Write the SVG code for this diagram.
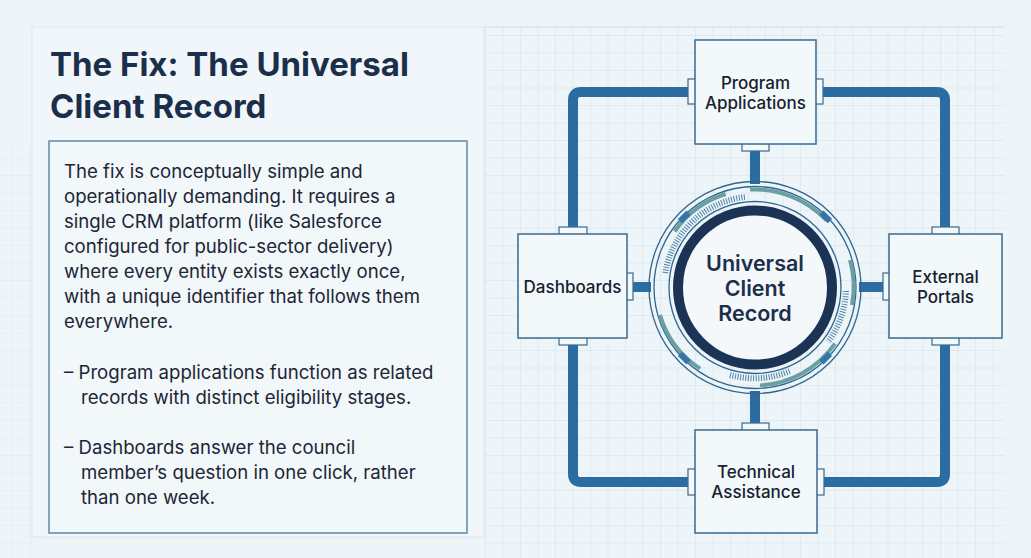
<svg xmlns="http://www.w3.org/2000/svg" width="1031" height="558" viewBox="0 0 1031 558">
  <defs>
    <pattern id="grid" x="485" y="35" width="17.5" height="17.5" patternUnits="userSpaceOnUse">
      <path d="M0 0 V17.5 M0 0 H17.5" fill="none" stroke="#d2e1ea" stroke-width="1"/>
    </pattern>
    <style>
      .node { fill: #f3f8fb; stroke: #3a6a90; stroke-width: 1.5; }
      .tab { fill: #f3f8fb; stroke: #3a6a90; stroke-width: 1.2; }
      .pipe { fill: none; stroke: #2b6ca3; stroke-width: 10; }
      .lbl { font-family: Inter, "Liberation Sans", sans-serif; font-size: 17px; font-weight: 500; fill: #18212e; text-anchor: middle; }
      .body { font-family: Inter, "Liberation Sans", sans-serif; font-size: 18.6px; fill: #1c2636; }
      .title { font-family: Inter, "Liberation Sans", sans-serif; font-size: 33px; font-weight: 700; fill: #1b2f4a; }
      .thin { fill: none; stroke: #2f6690; stroke-width: 1.3; }
    </style>
  </defs>

  <!-- background -->
  <rect width="1031" height="558" fill="#eef5f8"/>
  <rect x="484" y="27" width="521" height="531" fill="url(#grid)"/>
  <rect x="0" y="145" width="32" height="413" fill="url(#grid)" opacity="0.6"/>
  <rect x="32" y="27" width="452" height="510" fill="#f0f6f9" stroke="#dbe7ee" stroke-width="1"/>
  <line x1="484" y1="27" x2="1005" y2="27" stroke="#d2e1ea" stroke-width="1"/>

  <!-- left panel -->
  <g id="title">
    <text class="title" x="50" y="76">The Fix: The Universal</text>
    <text class="title" x="50" y="118">Client Record</text>
  </g>
  <g id="textbox">
    <rect x="49" y="141" width="418" height="392" fill="#f2f7fa" stroke="#5d89aa" stroke-width="1.5"/>
    <text class="body" x="64" y="178">The fix is conceptually simple and</text>
    <text class="body" x="64" y="203">operationally demanding. It requires a</text>
    <text class="body" x="64" y="228">single CRM platform (like Salesforce</text>
    <text class="body" x="64" y="253">configured for public-sector delivery)</text>
    <text class="body" x="64" y="278">where every entity exists exactly once,</text>
    <text class="body" x="64" y="303">with a unique identifier that follows them</text>
    <text class="body" x="64" y="328">everywhere.</text>
    <text class="body" x="64" y="379">– Program applications function as related</text>
    <text class="body" x="81" y="404">records with distinct eligibility stages.</text>
    <text class="body" x="64" y="454">– Dashboards answer the council</text>
    <text class="body" x="81" y="479">member’s question in one click, rather</text>
    <text class="body" x="81" y="504">than one week.</text>
  </g>

  <!-- connectors -->
  <g id="connectors">
    <path class="pipe" d="M688 92 H581 Q573 92 573 100 V227"/>
    <path class="pipe" d="M823 92 H937 Q945 92 945 100 V227"/>
    <path class="pipe" d="M573 345 V474 Q573 482 581 482 H688"/>
    <path class="pipe" d="M824 482 H937 Q945 482 945 474 V345"/>
    <path class="pipe" d="M755 151 V184"/>
    <path class="pipe" d="M755 391 V423"/>
    <path class="pipe" d="M633 287 H651"/>
    <path class="pipe" d="M883 287 H859"/>
  </g>

  <!-- center hub -->
  <g id="hub">
    <circle cx="755" cy="287.5" r="106" fill="#f1f6f9" class="thin"/>
    <circle cx="755" cy="287.5" r="101" class="thin"/>
    <g fill="none" stroke="#6a9fa3" stroke-width="4">
      <path d="M 750 189.6 A 98 98 0 0 1 826.6 220.5"/>
      <path d="M 674.7 231.3 A 98 98 0 0 1 725.7 194"/>
      <path d="M 660 315 A 98 98 0 0 0 700 368.6"/>
      <path d="M 760 385.4 A 98 98 0 0 0 835 343.7"/>
      <path d="M 850 260 A 98 98 0 0 1 852 305"/>
    </g>
    <g fill="none" stroke="#4a82a8" stroke-width="6" stroke-dasharray="1 1.6">
      <path d="M 665.3 273 A 91 91 0 0 1 745 197"/>
      <path d="M 845.9 291 A 91 91 0 0 1 828 342"/>
      <path d="M 730 375 A 91 91 0 0 0 790 371"/>
    </g>
    <circle cx="755" cy="287.5" r="86" class="thin"/>
    <g fill="#3574a8">
      <rect x="-3" y="-6" width="6" height="12" transform="translate(684.3 216.8) rotate(45)"/>
      <rect x="-3" y="-6" width="6" height="12" transform="translate(825.7 216.8) rotate(-45)"/>
      <rect x="-3" y="-6" width="6" height="12" transform="translate(684.3 358.2) rotate(-45)"/>
      <rect x="-3" y="-6" width="6" height="12" transform="translate(825.7 358.2) rotate(45)"/>
    </g>
    <circle cx="755" cy="287.5" r="77" fill="#f4f8fb" stroke="#1b3354" stroke-width="10"/>
    <g font-family="Inter, 'Liberation Sans', sans-serif" font-size="21.5" font-weight="600" fill="#1b2f4a" text-anchor="middle">
      <text x="755" y="271">Universal</text>
      <text x="755" y="296">Client</text>
      <text x="755" y="321">Record</text>
    </g>
  </g>

  <!-- nodes -->
  <g id="program-applications">
    <rect class="tab" x="688" y="79" width="8" height="25"/>
    <rect class="tab" x="815" y="79" width="8" height="25"/>
    <rect class="tab" x="742" y="143" width="27" height="8"/>
    <rect class="node" x="695" y="40" width="121" height="104"/>
    <text class="lbl" x="755.5" y="89">Program</text>
    <text class="lbl" x="755.5" y="109">Applications</text>
  </g>
  <g id="dashboards">
    <rect class="tab" x="559" y="227" width="28" height="8"/>
    <rect class="tab" x="626" y="273" width="7" height="27"/>
    <rect class="tab" x="559" y="337" width="28" height="8"/>
    <rect class="node" x="518" y="234" width="109" height="104"/>
    <text class="lbl" x="572.5" y="293">Dashboards</text>
  </g>
  <g id="external-portals">
    <rect class="tab" x="932" y="227" width="27" height="8"/>
    <rect class="tab" x="883" y="273" width="7" height="27"/>
    <rect class="tab" x="932" y="337" width="27" height="8"/>
    <rect class="node" x="889" y="234" width="113" height="104"/>
    <text class="lbl" x="945.5" y="283">External</text>
    <text class="lbl" x="945.5" y="303">Portals</text>
  </g>
  <g id="technical-assistance">
    <rect class="tab" x="742" y="423" width="27" height="8"/>
    <rect class="tab" x="688" y="469" width="8" height="26"/>
    <rect class="tab" x="816" y="469" width="8" height="26"/>
    <rect class="node" x="695" y="430" width="122" height="103"/>
    <text class="lbl" x="756" y="478">Technical</text>
    <text class="lbl" x="756" y="498">Assistance</text>
  </g>
</svg>
